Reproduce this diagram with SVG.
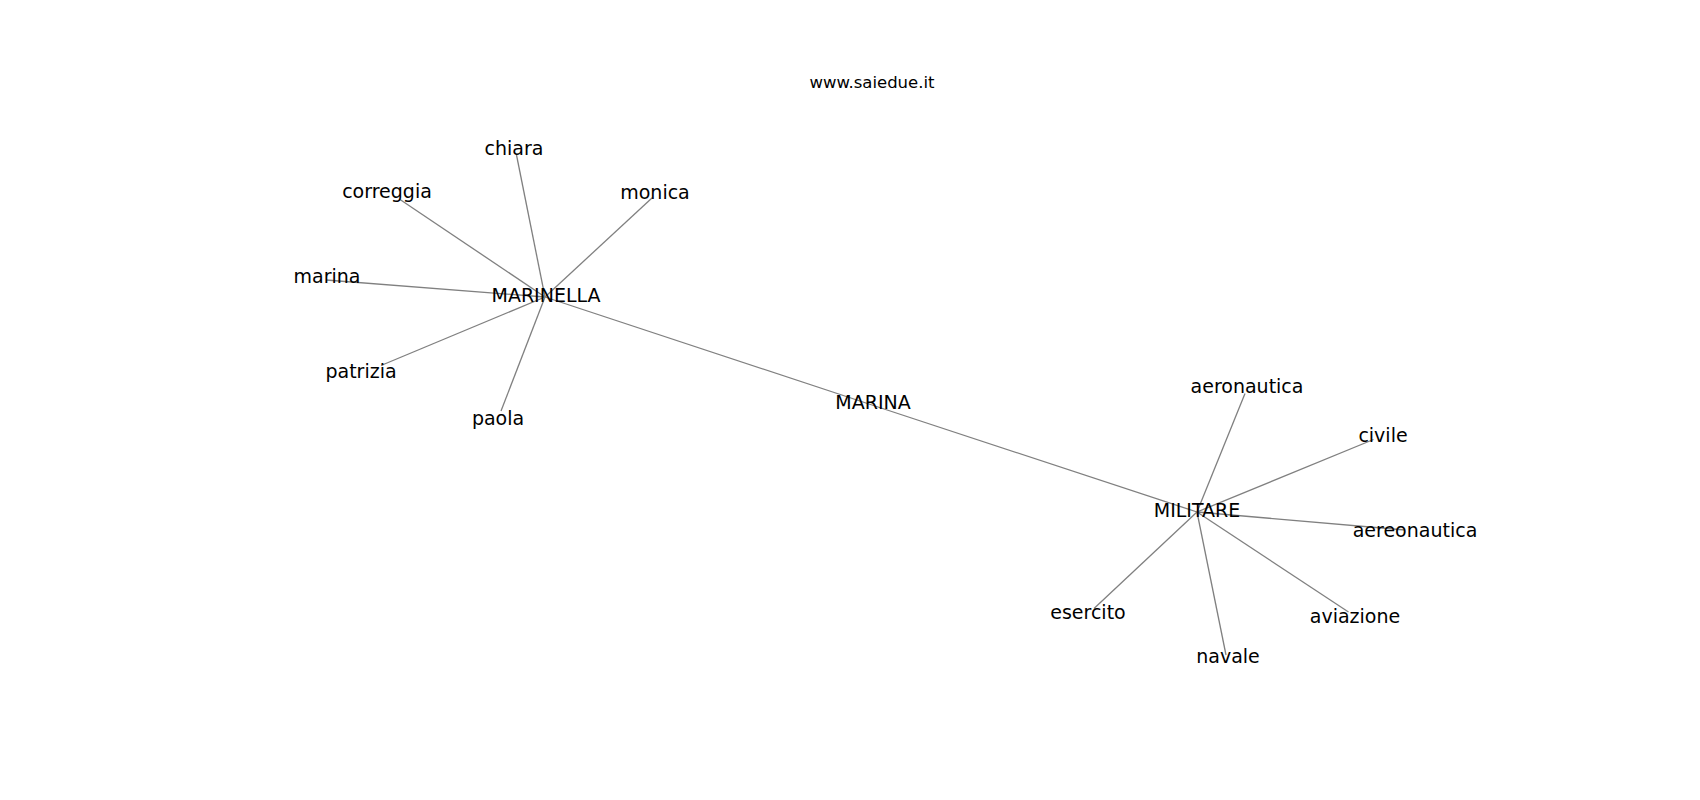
<svg xmlns="http://www.w3.org/2000/svg" width="1700" height="800" viewBox="0 0 1700 800">
<style>
.e{stroke:#808080;stroke-width:1.3;fill:none}
.l{font-family:"DejaVu Sans",sans-serif;font-size:19px;fill:#000;text-anchor:middle}
.t{font-family:"DejaVu Sans",sans-serif;font-size:16.5px;fill:#000;text-anchor:middle}
</style>
<rect width="1700" height="800" fill="#fff"/>
<text class="t" x="872" y="88">www.saiedue.it</text>
<g id="edges">
<line class="e" x1="545" y1="297" x2="872" y2="405"/>
<line class="e" x1="872" y1="405" x2="1197" y2="512"/>
<line class="e" x1="545" y1="297" x2="516.5" y2="155"/>
<line class="e" x1="545" y1="297" x2="652.5" y2="197.5"/>
<line class="e" x1="545" y1="297" x2="400" y2="199.5"/>
<line class="e" x1="545" y1="297" x2="326" y2="280"/>
<line class="e" x1="545" y1="297" x2="381" y2="365.5"/>
<line class="e" x1="545" y1="297" x2="501" y2="411"/>
<line class="e" x1="1197" y1="512" x2="1245" y2="393.5"/>
<line class="e" x1="1197" y1="512" x2="1373.5" y2="439.5"/>
<line class="e" x1="1197" y1="512" x2="1405" y2="530"/>
<line class="e" x1="1197" y1="512" x2="1348.5" y2="612"/>
<line class="e" x1="1197" y1="512" x2="1226" y2="655"/>
<line class="e" x1="1197" y1="512" x2="1094" y2="608.5"/>
</g>
<g id="MARINELLA"><text class="l" x="546" y="302">MARINELLA</text></g>
<g id="chiara"><text class="l" x="514" y="155">chiara</text></g>
<g id="monica"><text class="l" x="655" y="199">monica</text></g>
<g id="correggia"><text class="l" x="387" y="197.5">correggia</text></g>
<g id="marina"><text class="l" x="327" y="283">marina</text></g>
<g id="patrizia"><text class="l" x="361" y="378">patrizia</text></g>
<g id="paola"><text class="l" x="498" y="425">paola</text></g>
<g id="MARINA"><text class="l" x="873" y="409">MARINA</text></g>
<g id="MILITARE"><text class="l" x="1197" y="517">MILITARE</text></g>
<g id="aeronautica"><text class="l" x="1247" y="393">aeronautica</text></g>
<g id="civile"><text class="l" x="1383" y="442">civile</text></g>
<g id="aereonautica"><text class="l" x="1415" y="537">aereonautica</text></g>
<g id="aviazione"><text class="l" x="1355" y="623">aviazione</text></g>
<g id="navale"><text class="l" x="1228" y="663">navale</text></g>
<g id="esercito"><text class="l" x="1088" y="619">esercito</text></g>
</svg>
